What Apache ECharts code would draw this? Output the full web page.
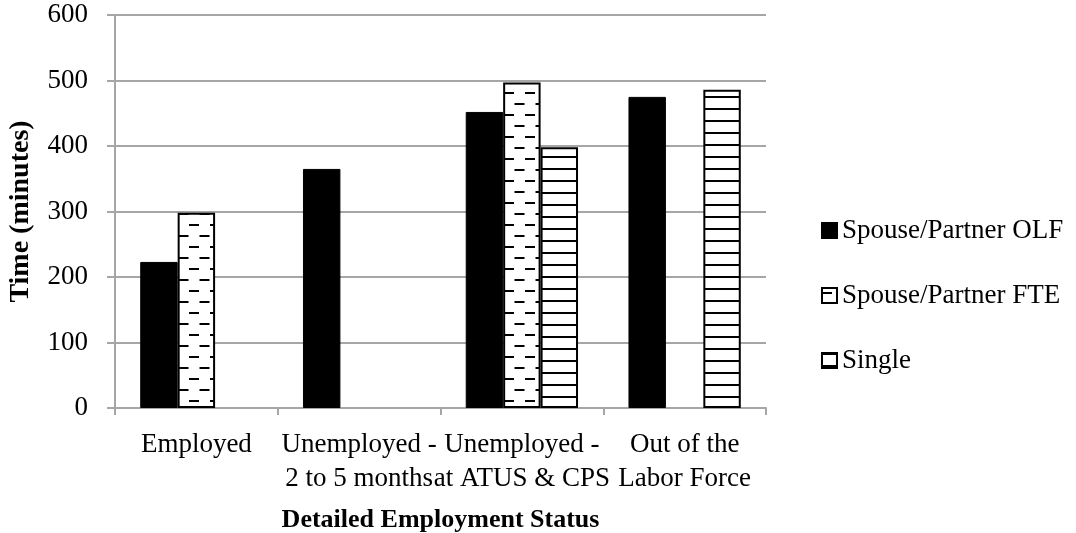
<!DOCTYPE html>
<html>
<head>
<meta charset="utf-8">
<script src="https://cdn.jsdelivr.net/npm/echarts@6/dist/echarts.min.js"></script>
<style>
  html, body { margin: 0; padding: 0; background: #fff; }
  #chart { width: 1076px; height: 533px; }
</style>
</head>
<body>
<div id="chart"></div>
<script>
// 分类与数据
const categories = ['Employed', 'Unemployed -\n2 to 5 months', 'Unemployed -\nat ATUS & CPS', 'Out of the\nLabor Force']
const olfValues = [223, 365, 452, 475]
const fteValues = [298, '-', 497, '-']
const singleValues = ['-', '-', 398, 486]
const yTicks = [0, 100, 200, 300, 400, 500, 600]

const FONT = 'Liberation Serif'

// 虚线花纹 (Spouse/Partner FTE)
function dashPattern () {
  const c = document.createElement('canvas')
  c.width = 21
  c.height = 22
  const ctx = c.getContext('2d')
  ctx.fillStyle = '#fff'
  ctx.fillRect(0, 0, c.width, c.height)
  ctx.fillStyle = '#000'
  ctx.fillRect(0, 4, 10, 2)
  ctx.fillRect(10.5, 15, 10, 2)
  return c
}

// 横线花纹 (Single)
function stripePattern () {
  const c = document.createElement('canvas')
  c.width = 4
  c.height = 12
  const ctx = c.getContext('2d')
  ctx.fillStyle = '#fff'
  ctx.fillRect(0, 0, c.width, c.height)
  ctx.fillStyle = '#000'
  ctx.fillRect(0, 0, 4, 2)
  return c
}

const myChart = echarts.init(document.getElementById('chart'))
const option = {
  animation: false,
  textStyle: { fontFamily: FONT },
  legend: {
    orient: 'vertical',
    left: 816,
    top: 212,
    itemWidth: 15,
    itemHeight: 15,
    itemGap: 38,
    itemTextGap: 3,
    icon: 'rect',
    textStyle: { fontFamily: FONT, fontSize: 27, color: '#000' },
    data: ['Spouse/Partner OLF', 'Spouse/Partner FTE', 'Single']
  },
  grid: {
    left: 115,
    right: 310,
    top: 15,
    bottom: 125,
    containLabel: false,
    outerBoundsMode: 'none'
  },
  xAxis: {
    type: 'category',
    data: categories,
    name: 'Detailed Employment Status',
    nameLocation: 'middle',
    nameGap: 99,
    nameTextStyle: { fontFamily: FONT, fontSize: 26, fontWeight: 'bold', color: '#000' },
    axisLine: { lineStyle: { color: '#a6a6a6', width: 2 } },
    axisTick: { show: true, length: 7, lineStyle: { color: '#a6a6a6', width: 2 } },
    axisLabel: {
      interval: 0,
      margin: 20,
      fontFamily: FONT,
      fontSize: 27,
      lineHeight: 34,
      color: '#000'
    }
  },
  yAxis: {
    type: 'value',
    min: yTicks[0],
    max: yTicks[yTicks.length - 1],
    interval: 100,
    name: 'Time (minutes)',
    nameLocation: 'middle',
    nameGap: 80,
    nameTextStyle: { fontFamily: FONT, fontSize: 28, fontWeight: 'bold', color: '#000' },
    axisLine: { show: true, lineStyle: { color: '#a6a6a6', width: 2 } },
    axisTick: { show: true, length: 8, lineStyle: { color: '#a6a6a6', width: 2 } },
    axisLabel: { margin: 27, fontFamily: FONT, fontSize: 27, color: '#000' },
    splitLine: { show: true, lineStyle: { color: '#a6a6a6', width: 2 } }
  },
  series: [
    {
      name: 'Spouse/Partner OLF',
      type: 'bar',
      barGap: '0%',
      barCategoryGap: '31%',
      itemStyle: { color: '#000', borderColor: '#000', borderWidth: 1 },
      data: olfValues
    },
    {
      name: 'Spouse/Partner FTE',
      type: 'bar',
      barGap: '0%',
      barCategoryGap: '31%',
      itemStyle: {
        color: { image: dashPattern(), repeat: 'repeat' },
        borderColor: '#000',
        borderWidth: 2
      },
      data: fteValues
    },
    {
      name: 'Single',
      type: 'bar',
      barGap: '0%',
      barCategoryGap: '31%',
      itemStyle: {
        color: { image: stripePattern(), repeat: 'repeat' },
        borderColor: '#000',
        borderWidth: 2
      },
      data: singleValues
    }
  ]
}
myChart.setOption(option)
window.onresize = () => {
  myChart.resize()
}
</script>
</body>
</html>
